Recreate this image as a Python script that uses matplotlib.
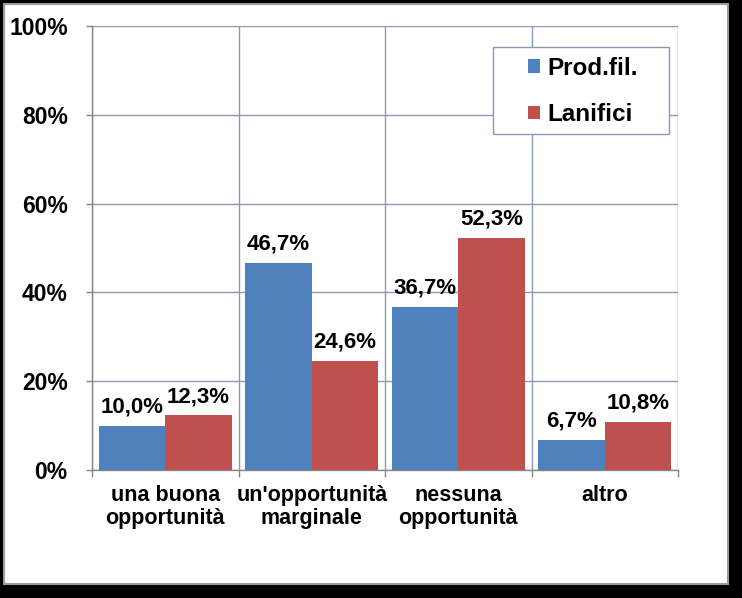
import matplotlib
matplotlib.use("Agg")
import matplotlib.pyplot as plt
from matplotlib.patches import Rectangle
import numpy as np

categories = ["una buona\nopportunità", "un'opportunità\nmarginale", "nessuna\nopportunità", "altro"]
series_names = ["Prod.fil.", "Lanifici"]
prod_fil = [10.0, 46.7, 36.7, 6.7]
lanifici = [12.3, 24.6, 52.3, 10.8]
y_ticks = [0, 20, 40, 60, 80, 100]

colors = ["#4F81BD", "#C0504D"]
grid_c = "#8A9BB0"
axis_c = "#868686"
font = "Liberation Sans"

W, H = 742, 598
fig = plt.figure(figsize=(W / 100, H / 100), dpi=100, facecolor="black")

# white chart panel with black shadow/border around
panel = Rectangle((4 / W, (H - 584) / H), (728 - 4) / W, (584 - 4) / H,
                  transform=fig.transFigure, facecolor="white",
                  edgecolor="#9a9a9a", linewidth=1.5, zorder=-10)
fig.patches.append(panel)

ax = fig.add_axes([92 / W, (H - 470) / H, (678 - 92) / W, (470 - 26) / H])
ax.set_facecolor("none")
ax.set_zorder(1)

x = np.arange(len(categories))
bw = 0.454
b1 = ax.bar(x - bw / 2, prod_fil, bw, color=colors[0], label=series_names[0], zorder=3)
b2 = ax.bar(x + bw / 2, lanifici, bw, color=colors[1], label=series_names[1], zorder=3)

def fmt(v):
    return f"{v:.1f}".replace(".", ",") + "%"

for bars, vals in ((b1, prod_fil), (b2, lanifici)):
    for rect, v in zip(bars, vals):
        ax.annotate(fmt(v), (rect.get_x() + rect.get_width() / 2, v),
                    xytext=(0, 6), textcoords="offset points",
                    ha="center", va="bottom", fontsize=16,
                    fontweight="bold", family=font, zorder=4)

ax.set_xlim(-0.5, 3.5)
ax.set_ylim(0, 100)

ax.set_yticks(y_ticks)
ax.set_yticklabels([f"{t}%" for t in y_ticks], fontsize=16.5, fontweight="bold", family=font)
ax.set_xticks(np.arange(-0.5, 4, 1.0))
ax.set_xticklabels([])
ax.set_xticks(x, minor=True)
ax.set_xticklabels(categories, minor=True, fontsize=15.5, fontweight="bold",
                   family=font, linespacing=1.15)
ax.tick_params(axis="x", which="minor", length=0, pad=10.5)
ax.tick_params(axis="x", which="major", length=5, color=axis_c, width=1)
ax.tick_params(axis="y", length=4.5, color=axis_c, width=1, pad=13)

ax.grid(True, which="major", color=grid_c, linewidth=1, zorder=1)
ax.set_axisbelow(True)
for s in ["top", "right"]:
    ax.spines[s].set_visible(False)
for s in ["left", "bottom"]:
    ax.spines[s].set_color(axis_c)
    ax.spines[s].set_linewidth(1)

# legend frame
lx0, lx1 = (493 - 92) / 586, (669 - 92) / 586
ly0, ly1 = (470 - 134) / 444, (470 - 47) / 444
ax.add_patch(Rectangle((lx0, ly0), lx1 - lx0, ly1 - ly0, transform=ax.transAxes,
                       facecolor="white", edgecolor=grid_c, linewidth=1,
                       zorder=4, clip_on=False))
leg = ax.legend(loc="upper left", bbox_to_anchor=((528 - 92) / 586, (470 - 57) / 444),
                frameon=False, borderpad=0, borderaxespad=0,
                handlelength=0.5, handleheight=0.5, handletextpad=0.3,
                labelspacing=0.95,
                prop={"family": font, "weight": "bold", "size": 17.5})
leg.set_zorder(6)

fig.savefig("out.png", dpi=100, facecolor="black")
